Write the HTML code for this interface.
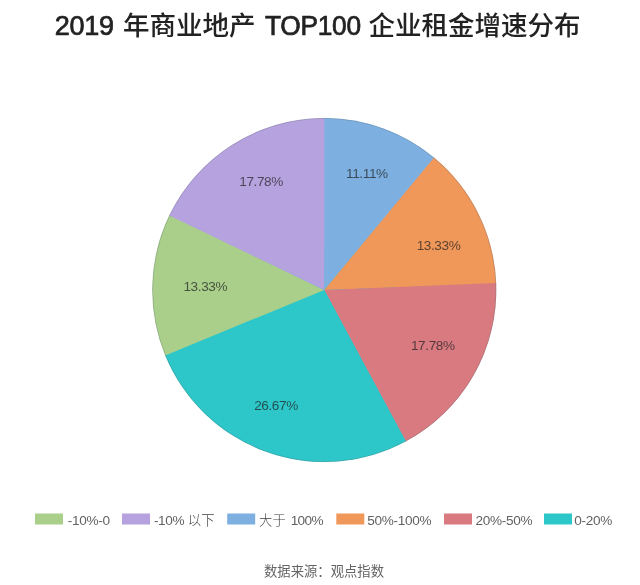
<!DOCTYPE html>
<html lang="zh-CN">
<head>
<meta charset="utf-8">
<title>2019 年商业地产 TOP100 企业租金增速分布</title>
<style>
  html, body { margin: 0; padding: 0; background: #ffffff; }
  body { width: 640px; height: 585px; overflow: hidden; font-family: "Liberation Sans", "Noto Sans CJK SC", sans-serif; }
  svg { display: block; }
  svg text { font-family: "Liberation Sans", "Noto Sans CJK SC", sans-serif; }
  .title { font-size: 26.5px; font-weight: 500; fill: #222222; }
  .title .lat { font-size: 27px; letter-spacing: -0.25px; stroke: #222222; stroke-width: 0.7px; }
  .labels text { font-size: 13.6px; letter-spacing: -0.4px; font-weight: 300; fill: #1c1c1c; fill-opacity: 0.7; text-anchor: middle; }
  .legend text { font-size: 13.33px; font-weight: 300; fill: #404040; }
  .legend .l { font-size: 13.6px; letter-spacing: -0.32px; fill: #626262; }
  .source { font-size: 13.33px; font-weight: 400; fill: #646464; text-anchor: middle; }
</style>
</head>
<body>
<svg width="640" height="585" viewBox="0 0 640 585">
  <rect x="0" y="0" width="640" height="585" fill="#ffffff"/>
  <text class="title" y="34.7"><tspan class="lat" x="54.8">2019 </tspan><tspan x="122.9">年商业地产 </tspan><tspan class="lat" x="264.9" textLength="96" lengthAdjust="spacingAndGlyphs">TOP100</tspan><tspan> </tspan><tspan x="368.6">企业租金增速分布</tspan></text>
  <g class="pie">
    <circle cx="324.3" cy="290.0" r="171.5" fill="#2ec7c9"/>
    <path d="M324.3 290.0L323.25 118.00A172.0 172.0 0 0 1 434.86 158.24Z" fill="#7db0e0"/>
    <path d="M324.3 290.0L434.05 157.57A172.0 172.0 0 0 1 496.20 284.00Z" fill="#f0975a"/>
    <path d="M324.3 290.0L496.16 282.95A172.0 172.0 0 0 1 405.05 441.87Z" fill="#d87a80"/>
    <path d="M324.3 290.0L405.98 441.37A172.0 172.0 0 0 1 164.82 354.43Z" fill="#2ec7c9"/>
    <path d="M324.3 290.0L165.22 355.41A172.0 172.0 0 0 1 169.71 214.60Z" fill="#a9cf8b"/>
    <path d="M324.3 290.0L169.25 215.55A172.0 172.0 0 0 1 324.30 118.00Z" fill="#b6a2de"/>
    <circle cx="324.3" cy="290.0" r="171.7" fill="none" stroke="#55606a" stroke-opacity="0.32" stroke-width="0.8"/>
  </g>
  <g class="labels">
    <text x="366.9" y="177.75">11.11%</text>
    <text x="438.5" y="249.60">13.33%</text>
    <text x="432.8" y="349.60">17.78%</text>
    <text x="276" y="410.45">26.67%</text>
    <text x="205.3" y="291.10">13.33%</text>
    <text x="261.1" y="186.10">17.78%</text>
  </g>
  <g class="legend">
    <rect x="35" y="513.5" width="28" height="11" fill="#a9cf8b"/><text x="67.8" y="524.7"><tspan class='l'>-10%-0</tspan></text>
    <rect x="122" y="513.5" width="28" height="11" fill="#b6a2de"/><text x="153.9" y="524.7"><tspan class='l'>-10% </tspan>以下</text>
    <rect x="227.2" y="513.5" width="28" height="11" fill="#7db0e0"/><text x="259.1" y="524.7">大于 <tspan class='l' dx='1.2' style='letter-spacing:-0.6px'>100%</tspan></text>
    <rect x="336.3" y="513.5" width="28" height="11" fill="#f0975a"/><text x="367.25" y="524.7"><tspan class='l'>50%-100%</tspan></text>
    <rect x="444" y="513.5" width="28" height="11" fill="#d87a80"/><text x="475.5" y="524.7"><tspan class='l'>20%-50%</tspan></text>
    <rect x="544" y="513.5" width="28" height="11" fill="#2ec7c9"/><text x="574.25" y="524.7"><tspan class='l'>0-20%</tspan></text>
  </g>
  <text class="source" x="324.0" y="575.8">数据来源：观点指数</text>
</svg>
</body>
</html>
